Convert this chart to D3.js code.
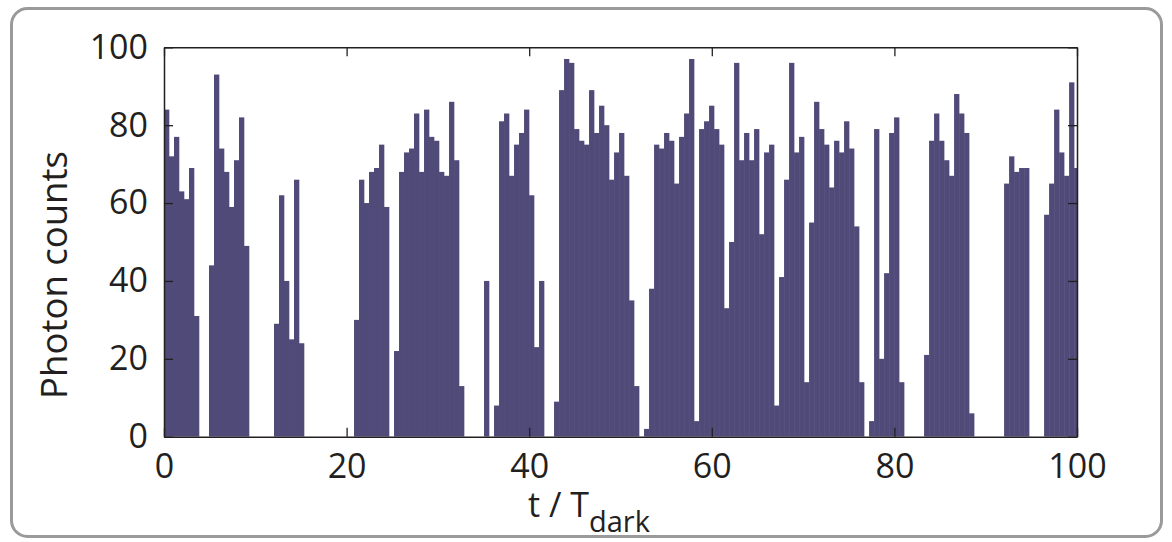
<!DOCTYPE html>
<html>
<head>
<meta charset="utf-8">
<script src="https://cdn.jsdelivr.net/npm/d3@7"></script>
<style>
  html, body { margin: 0; padding: 0; background: #ffffff; }
  svg { display: block; }
  text { font-family: "Open Sans", "Noto Sans", sans-serif; fill: #231f20; }
</style>
</head>
<body>
<svg id="chart" width="1172" height="542"></svg>
<script>
// ---- data ----
const photonCounts = [
  84,72,77,63,61,69,31,
  0,0,
  44,93,74,68,59,71,82,49,
  0,0,0,0,0,
  29,62,40,25,66,24,
  0,0,0,0,0,0,0,0,0,0,
  30,66,60,68,69,75,59,
  0,
  22,68,73,74,83,68,84,77,76,68,67,86,71,13,
  0,0,0,0,
  40,
  0,
  8,81,83,67,75,78,84,62,23,40,
  0,0,
  9,89,97,96,79,76,75,89,78,85,80,66,73,78,67,35,13,
  0,
  2,38,75,74,78,76,65,77,83,97,4,79,81,85,79,75,33,50,
  96,71,78,71,79,52,73,75,8,41,66,96,73,77,14,55,86,79,75,64,76,73,81,
  74,54,14,
  0,
  4,79,20,42,78,82,14,
  0,0,0,0,
  21,76,83,76,71,67,88,83,78,6,
  0,0,0,0,0,0,
  65,72,68,69,69,
  0,0,0,
  57,65,84,73,67,91,69
];
const binWidth = 0.5477;           // t / T_dark per bin
const xDomain = [0, 100];
const yDomain = [0, 100];
const xTickValues = [0, 20, 40, 60, 80, 100];
const yTickValues = [0, 20, 40, 60, 80, 100];
const yLabel = "Photon counts";
const xLabelMain = "t / T";
const xLabelSub = "dark";

// ---- layout ----
const plot = { left: 164, right: 1077, top: 47.3, bottom: 436.7 };
const barColor = "#4f4a78";
const axisColor = "#231f20";
const fontSize = 34;

const svg = d3.select("#chart");

// outer rounded frame
svg.append("rect")
  .attr("x", 11.5).attr("y", 8.5)
  .attr("width", 1150).attr("height", 528)
  .attr("rx", 16).attr("ry", 16)
  .attr("fill", "none")
  .attr("stroke", "#9a9a9a")
  .attr("stroke-width", 3);

const x = d3.scaleLinear().domain(xDomain).range([plot.left, plot.right]);
const y = d3.scaleLinear().domain(yDomain).range([plot.bottom, plot.top]);

svg.append("clipPath").attr("id", "plotClip")
  .append("rect")
  .attr("x", plot.left).attr("y", plot.top)
  .attr("width", plot.right - plot.left).attr("height", plot.bottom - plot.top);

const bins = photonCounts.map((v, i) => ({ x0: i * binWidth, x1: (i + 1) * binWidth, v }));

svg.append("g").attr("clip-path", "url(#plotClip)")
  .selectAll("rect")
  .data(bins.filter(d => d.v > 0))
  .join("rect")
  .attr("x", d => x(d.x0))
  .attr("width", d => x(d.x1) - x(d.x0) + 0.3)
  .attr("y", d => y(d.v))
  .attr("height", d => y(0) - y(d.v))
  .attr("fill", barColor);

// axes (ticks pointing inward, box on)
const tickLen = 9;
function styleAxis(g) {
  g.select(".domain").attr("stroke", axisColor).attr("stroke-width", 1.5);
  g.selectAll(".tick line").attr("stroke", axisColor).attr("stroke-width", 1.3);
  g.selectAll(".tick text")
    .style("font-family", '"Open Sans", "Noto Sans", sans-serif')
    .style("font-size", fontSize + "px")
    .attr("fill", axisColor);
}

svg.append("g")
  .attr("transform", `translate(0,${plot.bottom})`)
  .call(d3.axisBottom(x).tickValues(xTickValues).tickSizeInner(-tickLen).tickSizeOuter(0).tickPadding(17).tickFormat(d3.format("d")))
  .call(styleAxis);

svg.append("g")
  .attr("transform", `translate(0,${plot.top})`)
  .call(d3.axisTop(x).tickValues(xTickValues).tickSizeInner(-tickLen).tickSizeOuter(0).tickFormat(""))
  .call(styleAxis);

svg.append("g")
  .attr("transform", `translate(${plot.left},0)`)
  .call(d3.axisLeft(y).tickValues(yTickValues).tickSizeInner(-tickLen).tickSizeOuter(0).tickPadding(16).tickFormat(d3.format("d")))
  .call(styleAxis);

svg.append("g")
  .attr("transform", `translate(${plot.right},0)`)
  .call(d3.axisRight(y).tickValues(yTickValues).tickSizeInner(-tickLen).tickSizeOuter(0).tickFormat(""))
  .call(styleAxis);

// axis labels
const xl = svg.append("text")
  .attr("y", 517)
  .attr("text-anchor", "start")
  .style("font-size", fontSize + "px");
xl.append("tspan").attr("x", 528).text(xLabelMain);
xl.append("tspan").attr("dy", 15).style("font-size", "29px").text(xLabelSub);

svg.append("text")
  .attr("transform", `translate(67,275) rotate(-90)`)
  .attr("text-anchor", "middle")
  .style("font-size", "36.5px")
  .text(yLabel);
</script>
</body>
</html>
